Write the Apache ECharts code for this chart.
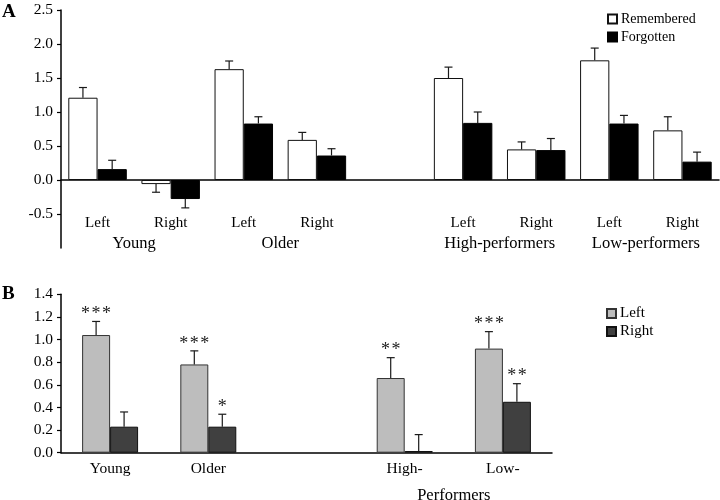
<!DOCTYPE html>
<html>
<head>
<meta charset="utf-8">
<script src="https://cdn.jsdelivr.net/npm/echarts@6/dist/echarts.min.js"></script>
<style>html,body{margin:0;padding:0;background:#fff;}#c{width:720px;height:500px;}</style>
</head>
<body>
<div id="c"></div>
<script>
// ---------- Panel A data ----------
const categoriesA = ['Left', 'Right', 'Left', 'Right', '', 'Left', 'Right', 'Left', 'Right'];
const groupsA = ['Young', 'Older', 'High-performers', 'Low-performers'];
const groupSpansA = [[0, 1], [2, 3], [5, 6], [7, 8]];
const remembered = [1.21, -0.06, 1.63, 0.59, null, 1.50, 0.45, 1.76, 0.73];
const rememberedSE = [0.15, 0.12, 0.12, 0.11, null, 0.16, 0.11, 0.18, 0.20];
const forgotten = [0.16, -0.28, 0.83, 0.36, null, 0.84, 0.44, 0.83, 0.27];
const forgottenSE = [0.13, 0.13, 0.10, 0.10, null, 0.16, 0.17, 0.12, 0.14];
const ticksA = [-0.5, 0, 0.5, 1, 1.5, 2, 2.5];

// ---------- Panel B data ----------
const categoriesB = ['Young', 'Older', '', 'High-', 'Low-'];
const groupsB = ['Performers'];
const groupSpansB = [[3, 4]];
const leftVals = [1.04, 0.78, null, 0.66, 0.92];
const leftSE = [0.12, 0.12, null, 0.18, 0.15];
const leftStars = ['***', '***', '', '**', '***'];
const rightVals = [0.23, 0.23, null, 0.015, 0.45];
const rightSE = [0.13, 0.11, null, 0.145, 0.16];
const rightStars = ['', '*', '', '', '**'];
const ticksB = [0, 0.2, 0.4, 0.6, 0.8, 1.0, 1.2, 1.4];

const FONT = 'Liberation Serif';
const GAP_A = 0.2, GAP_B = 0.43;

function errData(vals, se, stars) {
  const out = [];
  vals.forEach((v, i) => { if (v !== null) out.push([i, v, se[i], stars ? stars[i] : '']); });
  return out;
}
function makeErr(k, gap) {
  return function (params, api) {
    const cat = api.value(0), val = api.value(1), se = api.value(2);
    const star = api.value(3);
    const band = api.size([1, 0])[0];
    const bw = band * (1 - gap) / 2;
    const x = api.coord([cat, 0])[0] - band * (1 - gap) / 2 + bw * (k + 0.5);
    const sign = val >= 0 ? 1 : -1;
    const y0 = api.coord([cat, val])[1];
    const y1 = api.coord([cat, val + sign * se])[1];
    const st = { stroke: '#1a1a1a', lineWidth: 1.2 };
    const children = [
      { type: 'line', shape: { x1: x, y1: y0, x2: x, y2: y1 }, style: st },
      { type: 'line', shape: { x1: x - 4, y1: y1, x2: x + 4, y2: y1 }, style: st }
    ];
    if (star && star !== '' && star !== '-') {
      children.push({ type: 'text', style: { text: String(star).split('').join('\u200A'), x: x, y: y1 + 2, align: 'center', verticalAlign: 'bottom', font: '18px "' + FONT + '"', fill: '#222' } });
    }
    return { type: 'group', children: children };
  };
}
function groupCenters(spans) { return spans.map(s => (s[0] + s[1]) / 2); }
const centersA = groupCenters(groupSpansA);
const centersB = groupCenters(groupSpansB);

const chart = echarts.init(document.getElementById('c'));
chart.setOption({
  animation: false,
  textStyle: { fontFamily: FONT, color: '#000' },
  title: [
    { text: 'A', left: 2, top: 3, padding: 0, textStyle: { fontFamily: FONT, fontSize: 19, fontWeight: 'bold', color: '#000' } },
    { text: 'B', left: 2, top: 285, padding: 0, textStyle: { fontFamily: FONT, fontSize: 19, fontWeight: 'bold', color: '#000' } }
  ],
  legend: [
    { data: ['Remembered', 'Forgotten'], orient: 'vertical', left: 602, top: 7, itemWidth: 9, itemHeight: 9, itemGap: 4,
      icon: 'rect', textStyle: { fontFamily: FONT, fontSize: 14, lineHeight: 14, color: '#000', padding: [0, 0, 0, -1] }, selectedMode: false },
    { data: ['Left', 'Right'], orient: 'vertical', left: 601, top: 301, itemWidth: 9, itemHeight: 9, itemGap: 3,
      icon: 'rect', textStyle: { fontFamily: FONT, fontSize: 15, lineHeight: 15, color: '#000', padding: [0, 0, 0, -1] }, selectedMode: false }
  ],
  grid: [
    { left: 61, top: 10, width: 658, height: 238, outerBoundsMode: 'none', containLabel: false },
    { left: 61, top: 294.3, width: 491, height: 158.4, outerBoundsMode: 'none', containLabel: false }
  ],
  xAxis: [
    { type: 'category', gridIndex: 0, data: categoriesA, boundaryGap: true,
      axisLine: { onZero: true, lineStyle: { color: '#000', width: 1.5 } }, axisTick: { show: false },
      axisLabel: { margin: -32, fontFamily: FONT, fontSize: 15, color: '#000', interval: 0 } },
    { type: 'value', gridIndex: 0, min: -0.5, max: categoriesA.length - 0.5, position: 'bottom', offset: -21,
      axisLine: { show: false, onZero: false }, axisTick: { show: false }, splitLine: { show: false },
      axisLabel: { customValues: centersA, margin: 8, fontFamily: FONT, fontSize: 16.5, color: '#000',
        formatter: v => { const i = centersA.findIndex(c => Math.abs(c - v) < 1e-6); return i >= 0 ? groupsA[i] : ''; } } },
    { type: 'category', gridIndex: 1, data: categoriesB, boundaryGap: true,
      axisLine: { onZero: true, lineStyle: { color: '#000', width: 1.5 } }, axisTick: { show: false },
      axisLabel: { margin: 8, fontFamily: FONT, fontSize: 15.5, color: '#000', interval: 0 } },
    { type: 'value', gridIndex: 1, min: -0.5, max: categoriesB.length - 0.5, position: 'bottom',
      axisLine: { show: false, onZero: false }, axisTick: { show: false }, splitLine: { show: false },
      axisLabel: { customValues: centersB, margin: 34, fontFamily: FONT, fontSize: 16.5, color: '#000',
        formatter: v => { const i = centersB.findIndex(c => Math.abs(c - v) < 1e-6); return i >= 0 ? groupsB[i] : ''; } } }
  ],
  yAxis: [
    { type: 'value', gridIndex: 0, min: -1, max: 2.5, interval: 0.5,
      axisLine: { show: true, onZero: false, lineStyle: { color: '#000', width: 1.5 } },
      axisTick: { show: true, inside: false, length: 4, customValues: ticksA, lineStyle: { color: '#000', width: 1.2 } },
      splitLine: { show: false },
      axisLabel: { customValues: ticksA, margin: 8, fontFamily: FONT, fontSize: 15.5, color: '#000', formatter: v => v.toFixed(1) } },
    { type: 'value', gridIndex: 1, min: 0, max: 1.4, interval: 0.2,
      axisLine: { show: true, onZero: false, lineStyle: { color: '#000', width: 1.5 } },
      axisTick: { show: true, inside: false, length: 4, customValues: ticksB, lineStyle: { color: '#000', width: 1.2 } },
      splitLine: { show: false },
      axisLabel: { customValues: ticksB, margin: 8, fontFamily: FONT, fontSize: 15.5, color: '#000', formatter: v => v.toFixed(1) } }
  ],
  series: [
    { name: 'Remembered', type: 'bar', xAxisIndex: 0, yAxisIndex: 0, data: remembered, barGap: '0%', barCategoryGap: (GAP_A * 100) + '%',
      itemStyle: { color: '#ffffff', borderColor: '#111', borderWidth: 1 } },
    { name: 'Forgotten', type: 'bar', xAxisIndex: 0, yAxisIndex: 0, data: forgotten, barGap: '0%', barCategoryGap: (GAP_A * 100) + '%',
      itemStyle: { color: '#000000', borderColor: '#000', borderWidth: 1 } },
    { name: 'errRem', type: 'custom', xAxisIndex: 0, yAxisIndex: 0, data: errData(remembered, rememberedSE), renderItem: makeErr(0, GAP_A), z: 3 },
    { name: 'errForg', type: 'custom', xAxisIndex: 0, yAxisIndex: 0, data: errData(forgotten, forgottenSE), renderItem: makeErr(1, GAP_A), z: 3 },
    { name: 'Left', type: 'bar', xAxisIndex: 2, yAxisIndex: 1, data: leftVals, barGap: '0%', barCategoryGap: (GAP_B * 100) + '%',
      itemStyle: { color: '#bdbdbd', borderColor: '#333', borderWidth: 1 } },
    { name: 'Right', type: 'bar', xAxisIndex: 2, yAxisIndex: 1, data: rightVals, barGap: '0%', barCategoryGap: (GAP_B * 100) + '%',
      itemStyle: { color: '#404040', borderColor: '#111', borderWidth: 1 } },
    { name: 'errLeft', type: 'custom', xAxisIndex: 2, yAxisIndex: 1, data: errData(leftVals, leftSE, leftStars), renderItem: makeErr(0, GAP_B), z: 3 },
    { name: 'errRight', type: 'custom', xAxisIndex: 2, yAxisIndex: 1, data: errData(rightVals, rightSE, rightStars), renderItem: makeErr(1, GAP_B), z: 3 }
  ]
});
</script>
</body>
</html>
